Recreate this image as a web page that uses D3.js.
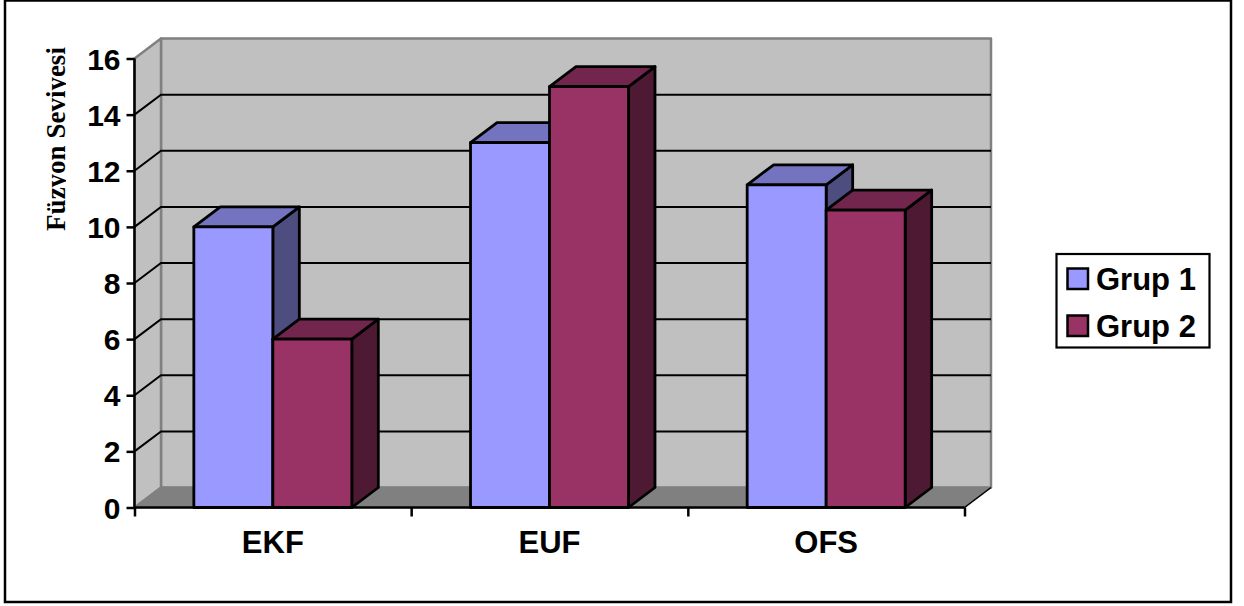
<!DOCTYPE html>
<html>
<head>
<meta charset="utf-8">
<script src="https://cdn.jsdelivr.net/npm/d3@7/dist/d3.min.js"></script>
<style>
  html, body { margin: 0; padding: 0; background: #fff; }
  svg { display: block; }
  text { fill: #000; }
</style>
</head>
<body>
<svg id="chart" width="1244" height="606"></svg>
<script>
// Chart data
const categories = ["EKF", "EUF", "OFS"];
const seriesNames = ["Grup 1", "Grup 2"];
const grup1 = [10, 13, 11.5];
const grup2 = [6, 15, 10.6];
const yTicks = [0, 2, 4, 6, 8, 10, 12, 14, 16];
const yTitle = "Füzyon Seviyesi";

// Face colours per series: front, top, side
const frontColors = ["#9999ff", "#993366"];
const topColors = ["#7373bf", "#73264d"];
const sideColors = ["#4d4d80", "#4d1933"];

const plotLeft = 134.5, plotRight = 964.5, plotBase = 507.5, plotTop = 58.5;
const depthX = 26.5, depthY = -20;

const svg = d3.select("#chart");
const font = "'Liberation Sans', Arial, sans-serif";

const y = d3.scaleLinear().domain([0, 16]).range([plotBase, plotTop]);
const x0 = d3.scaleBand().domain(categories).range([plotLeft, plotRight]).paddingInner(0.429).paddingOuter(0.2145);
const x1 = d3.scaleBand().domain(seriesNames).range([0, x0.bandwidth()]);

// Outer frame
svg.append("rect").attr("x", 5).attr("y", 0.5).attr("width", 1226).attr("height", 601.5)
  .attr("fill", "#fff").attr("stroke", "#000").attr("stroke-width", 2.5);

const poly = (pts, fill, stroke, sw) => svg.append("path")
  .attr("d", d3.line()(pts) + "Z")
  .attr("fill", fill)
  .attr("stroke", stroke || "none")
  .attr("stroke-width", sw || 0)
  .attr("stroke-linejoin", "round");

// Walls and floor
poly([[plotLeft + depthX, y(16) + depthY], [plotRight + depthX, y(16) + depthY],
      [plotRight + depthX, plotBase + depthY], [plotLeft + depthX, plotBase + depthY]], "#c0c0c0", "#808080", 2.5);
poly([[plotLeft, y(16)], [plotLeft + depthX, y(16) + depthY],
      [plotLeft + depthX, plotBase + depthY], [plotLeft, plotBase]], "#c0c0c0", "#808080", 2.5);
poly([[plotLeft, plotBase], [plotLeft + depthX, plotBase + depthY],
      [plotRight + depthX, plotBase + depthY], [plotRight, plotBase]], "#808080", "#808080", 1.5);

// Gridlines run along the side wall and across the back wall
const gridTicks = yTicks.filter(d => d > 0 && d < 16);
svg.append("g").selectAll("path").data(gridTicks).join("path")
  .attr("d", d => d3.line()([[plotLeft, y(d)], [plotLeft + depthX, y(d) + depthY], [plotRight + depthX, y(d) + depthY]]))
  .attr("fill", "none").attr("stroke", "#000").attr("stroke-width", 2);

// Right end of the floor edge
svg.append("path")
  .attr("d", d3.line()([[plotRight, plotBase], [plotRight + depthX, plotBase + depthY]]))
  .attr("stroke", "#000").attr("stroke-width", 1.5);

// Axes
const yAxis = svg.append("g").attr("transform", `translate(${plotLeft},0)`)
  .call(d3.axisLeft(y).tickValues(yTicks).tickSize(8).tickPadding(6).tickSizeOuter(0));
const xAxis = svg.append("g").attr("transform", `translate(0,${plotBase})`)
  .call(d3.axisBottom(d3.scaleLinear().domain([0, categories.length]).range([plotLeft, plotRight]))
    .tickValues(d3.range(categories.length + 1)).tickSize(9).tickFormat(""));
[yAxis, xAxis].forEach(a => {
  a.selectAll("path, line").attr("stroke", "#000").attr("stroke-width", 2.5);
  a.select(".domain").attr("d", a === yAxis
    ? `M0,${plotTop}V${plotBase}` : `M${plotLeft},0H${plotRight}`);
});
yAxis.selectAll("text")
  .attr("font-family", font).attr("font-size", 30).attr("font-weight", "bold")
  .attr("dy", "0.35em");

// Bars: side and top first, then the front face
const rows = categories.flatMap((c, i) => [grup1[i], grup2[i]].map((v, s) => ({ c, s, v })));
rows.forEach(d => {
  const xa = x0(d.c) + x1(seriesNames[d.s]);
  const xb = xa + x1.bandwidth();
  const yt = y(d.v);
  const st = "#000", sw = 2.8;
  poly([[xb, yt], [xb + depthX, yt + depthY], [xb + depthX, plotBase + depthY], [xb, plotBase]], sideColors[d.s], st, sw);
  poly([[xa, yt], [xa + depthX, yt + depthY], [xb + depthX, yt + depthY], [xb, yt]], topColors[d.s], st, sw);
  poly([[xa, yt], [xb, yt], [xb, plotBase], [xa, plotBase]], frontColors[d.s], st, sw);
});

// Category labels
svg.append("g").selectAll("text").data(categories).join("text")
  .attr("x", d => x0(d) + x0.bandwidth() / 2)
  .attr("y", 553)
  .attr("text-anchor", "middle")
  .attr("font-family", font).attr("font-size", 31).attr("font-weight", "bold")
  .text(d => d);

// Axis title, cut off at its baseline so descenders do not show
svg.append("clipPath").attr("id", "title-clip")
  .append("rect").attr("x", -120).attr("y", -40).attr("width", 240).attr("height", 41);
svg.append("g")
  .attr("transform", "translate(65,139) rotate(-90)")
  .attr("clip-path", "url(#title-clip)")
  .append("text")
  .attr("text-anchor", "middle")
  .attr("font-family", "'Liberation Serif', 'Times New Roman', serif")
  .attr("font-size", 27).attr("font-weight", "bold")
  .text(yTitle);

// Legend
const legend = svg.append("g");
legend.append("rect").attr("x", 1056.5).attr("y", 254).attr("width", 153).attr("height", 93.5)
  .attr("fill", "#fff").attr("stroke", "#000").attr("stroke-width", 2.2);
const legendY = d3.scalePoint().domain(seriesNames).range([278.5, 325.5]);
seriesNames.forEach((name, i) => {
  legend.append("rect").attr("x", 1067.5).attr("y", legendY(name) - 10).attr("width", 20.5).attr("height", 20.5)
    .attr("fill", frontColors[i]).attr("stroke", "#000").attr("stroke-width", 2.5);
  legend.append("text").attr("x", 1096).attr("y", legendY(name) + 11)
    .attr("font-family", font).attr("font-size", 31).attr("font-weight", "bold")
    .text(name);
});
</script>
</body>
</html>
